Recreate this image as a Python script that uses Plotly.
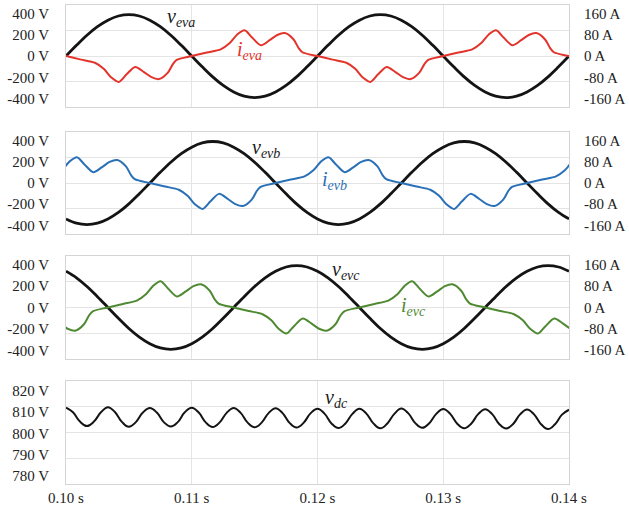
import numpy as np
import plotly.graph_objects as go

# ---------------------------------------------------------------- data
# phase voltages, sampled every 15 electrical degrees of the 50 Hz cycle
t_volt = np.linspace(0.10, 0.14, 49)
v_eva = [0, 84, 163, 230, 281, 314, 325, 314, 281, 230, 163, 84,
         0, -84, -163, -230, -281, -314, -325, -314, -281, -230, -163, -84,
         0, 84, 163, 230, 281, 314, 325, 314, 281, 230, 163, 84,
         0, -84, -163, -230, -281, -314, -325, -314, -281, -230, -163, -84,
         0]
v_evb = [-281, -314, -325, -314, -281, -230, -163, -84, 0, 84, 163, 230,
         281, 314, 325, 314, 281, 230, 163, 84, 0, -84, -163, -230,
         -281, -314, -325, -314, -281, -230, -163, -84, 0, 84, 163, 230,
         281, 314, 325, 314, 281, 230, 163, 84, 0, -84, -163, -230,
         -281]
v_evc = [281, 230, 163, 84, 0, -84, -163, -230, -281, -314, -325, -314,
         -281, -230, -163, -84, 0, 84, 163, 230, 281, 314, 325, 314,
         281, 230, 163, 84, 0, -84, -163, -230, -281, -314, -325, -314,
         -281, -230, -163, -84, 0, 84, 163, 230, 281, 314, 325, 314,
         281]

# phase currents (A), breakpoints of the measured waveforms
t_ia = [0.0988,
        0.1000, 0.1012, 0.1023, 0.1030, 0.1036, 0.1042, 0.1048, 0.1055, 0.1062, 0.1068, 0.1074, 0.1081, 0.1085, 0.1088,
        0.1100, 0.1112, 0.1123, 0.1130, 0.1136, 0.1142, 0.1148, 0.1155, 0.1162, 0.1168, 0.1174, 0.1181, 0.1185, 0.1188,
        0.1200, 0.1212, 0.1223, 0.1230, 0.1236, 0.1242, 0.1248, 0.1255, 0.1262, 0.1268, 0.1274, 0.1281, 0.1285, 0.1288,
        0.1300, 0.1312, 0.1323, 0.1330, 0.1336, 0.1342, 0.1348, 0.1355, 0.1362, 0.1368, 0.1374, 0.1381, 0.1385, 0.1388,
        0.1400, 0.1412]
i_eva = [12,
         0, -11, -21, -40, -67, -81, -58, -34, -50, -66, -72, -52, -25, -12,
         0, 11, 21, 40, 67, 81, 58, 34, 50, 66, 72, 52, 25, 12,
         0, -11, -21, -40, -67, -81, -58, -34, -50, -66, -72, -52, -25, -12,
         0, 11, 21, 40, 67, 81, 58, 34, 50, 66, 72, 52, 25, 12,
         0, -11]

t_ib = [0.09897, 0.09967, 0.10027, 0.10087, 0.10147, 0.10217, 0.10287, 0.10347, 0.10407, 0.10477, 0.10517, 0.10547,
        0.10667, 0.10787, 0.10897, 0.10967, 0.11027, 0.11087, 0.11147, 0.11217, 0.11287, 0.11347, 0.11407, 0.11477, 0.11517, 0.11547,
        0.11667, 0.11787, 0.11897, 0.11967, 0.12027, 0.12087, 0.12147, 0.12217, 0.12287, 0.12347, 0.12407, 0.12477, 0.12517, 0.12547,
        0.12667, 0.12787, 0.12897, 0.12967, 0.13027, 0.13087, 0.13147, 0.13217, 0.13287, 0.13347, 0.13407, 0.13477, 0.13517, 0.13547,
        0.13667, 0.13787, 0.13897, 0.13967, 0.14027, 0.14087]
i_evb = [21, 40, 67, 81, 58, 34, 50, 66, 72, 52, 25, 12,
         0, -11, -21, -40, -67, -81, -58, -34, -50, -66, -72, -52, -25, -12,
         0, 11, 21, 40, 67, 81, 58, 34, 50, 66, 72, 52, 25, 12,
         0, -11, -21, -40, -67, -81, -58, -34, -50, -66, -72, -52, -25, -12,
         0, 11, 21, 40, 67, 81]

t_ic = [0.09883, 0.09953, 0.10013, 0.10073, 0.10143, 0.10183, 0.10213,
        0.10333, 0.10453, 0.10563, 0.10633, 0.10693, 0.10753, 0.10813, 0.10883, 0.10953, 0.11013, 0.11073, 0.11143, 0.11183, 0.11213,
        0.11333, 0.11453, 0.11563, 0.11633, 0.11693, 0.11753, 0.11813, 0.11883, 0.11953, 0.12013, 0.12073, 0.12143, 0.12183, 0.12213,
        0.12333, 0.12453, 0.12563, 0.12633, 0.12693, 0.12753, 0.12813, 0.12883, 0.12953, 0.13013, 0.13073, 0.13143, 0.13183, 0.13213,
        0.13333, 0.13453, 0.13563, 0.13633, 0.13693, 0.13753, 0.13813, 0.13883, 0.13953, 0.14013, 0.14073]
i_evc = [-34, -50, -66, -72, -52, -25, -12,
         0, 11, 21, 40, 67, 81, 58, 34, 50, 66, 72, 52, 25, 12,
         0, -11, -21, -40, -67, -81, -58, -34, -50, -66, -72, -52, -25, -12,
         0, 11, 21, 40, 67, 81, 58, 34, 50, 66, 72, 52, 25, 12,
         0, -11, -21, -40, -67, -81, -58, -34, -50, -66, -72]

# dc-link voltage, 300 Hz ripple sampled six times per ripple period
t_dc = np.linspace(0.10, 0.14, 73)
v_dc = [809.6, 807.8, 804.2, 802.5, 804.2, 807.8,
        809.8, 807.9, 804.1, 802.2, 804.0, 807.7,
        809.5, 807.7, 804.0, 802.3, 804.0, 807.8,
        809.6, 807.7, 803.9, 802.1, 803.9, 807.6,
        809.5, 807.6, 803.8, 802.0, 803.8, 807.5,
        809.4, 807.5, 803.7, 801.9, 803.7, 807.4,
        809.2, 807.3, 803.5, 801.7, 803.5, 807.2,
        809.2, 807.3, 803.5, 801.6, 803.5, 807.2,
        809.3, 807.4, 803.6, 801.8, 803.6, 807.2,
        809.1, 807.2, 803.4, 801.6, 803.4, 807.1,
        809.0, 807.1, 803.3, 801.5, 803.3, 807.0,
        808.9, 807.0, 803.2, 801.3, 803.2, 806.9,
        808.8]

x_ticks = [0.10, 0.11, 0.12, 0.13, 0.14]
x_text = ["0.10 s", "0.11 s", "0.12 s", "0.13 s", "0.14 s"]
v_ticks = [-400, -200, 0, 200, 400]
v_text = ["-400 V", "-200 V", "0 V", "200 V", "400 V"]
i_ticks = [-160, -80, 0, 80, 160]
i_text = ["-160 A", "-80 A", "0 A", "80 A", "160 A"]
dc_ticks = [780, 790, 800, 810, 820]
dc_text = ["780 V", "790 V", "800 V", "810 V", "820 V"]

# ---------------------------------------------------------------- style
FONT = "Liberation Serif"
GRID = "#e4e4e4"
FRAME = "#d4d4d4"
BLACK = "#141414"
RED = "#e3342b"
BLUE = "#2a70b6"
GREEN = "#4f8a33"
TICK_COLOR = "#222222"
TICK_SIZE = 15


def tick_font():
    return dict(family=FONT, size=TICK_SIZE, color=TICK_COLOR)


domains = [[0.7867, 1.0], [0.5217, 0.735], [0.2609, 0.4762], [0.0, 0.2153]]

fig = go.Figure()
layout = {}


def x_axis(n, anchor, labels):
    ax = dict(domain=[0, 1], range=[0.10, 0.14], anchor=anchor,
              tickvals=x_ticks, ticktext=x_text, showticklabels=labels,
              ticks="", showgrid=True, gridcolor=GRID, gridwidth=1,
              showline=True, linecolor=FRAME, linewidth=1, mirror=True,
              zeroline=False, tickfont=tick_font())
    if n != 4:
        ax["matches"] = "x4"
    return ax


def line(x, y, xa, ya, color, width, smoothing=0.8):
    fig.add_trace(go.Scatter(x=x, y=y, xaxis=xa, yaxis=ya, mode="lines",
                             line=dict(color=color, width=width,
                                       shape="spline", smoothing=smoothing),
                             hoverinfo="skip", showlegend=False))


def blank(xa, ya):
    fig.add_trace(go.Scatter(x=[], y=[], xaxis=xa, yaxis=ya, mode="lines",
                             hoverinfo="skip", showlegend=False))


phase_panels = [
    (1, v_eva, t_ia, i_eva, RED, "eva"),
    (2, v_evb, t_ib, i_evb, BLUE, "evb"),
    (3, v_evc, t_ic, i_evc, GREEN, "evc"),
]

label_pos = {
    "eva": ((0.1079, 305), (0.1134, 17)),
    "evb": ((0.1146, 268), (0.1202, 9)),
    "evc": ((0.1210, 288), (0.1265, 3)),
}

annotations = []
for p, v, ti, cur, color, sub in phase_panels:
    xa = "x" if p == 1 else f"x{p}"
    base = 4 * (p - 1) + 1
    ym = "y" if base == 1 else f"y{base}"
    yi, yl, yr = f"y{base + 1}", f"y{base + 2}", f"y{base + 3}"

    layout["xaxis" if p == 1 else f"xaxis{p}"] = x_axis(p, ym, False)
    layout["yaxis" if base == 1 else f"yaxis{base}"] = dict(
        domain=domains[p - 1], range=[-400, 400], anchor=xa,
        tickvals=[-200, 0, 200], showticklabels=False, ticks="",
        showgrid=True, gridcolor=GRID, gridwidth=1, zeroline=False,
        showline=True, linecolor=FRAME, linewidth=1, mirror=True)
    layout[f"yaxis{base + 1}"] = dict(
        overlaying=ym, side="right", anchor=xa, range=[-160, 160],
        showgrid=False, showticklabels=False, zeroline=False, showline=False)
    layout[f"yaxis{base + 2}"] = dict(
        overlaying=ym, side="left", anchor=xa, range=[-482, 482],
        tickvals=v_ticks, ticktext=v_text, tickfont=tick_font(), ticks="",
        ticklabelstandoff=16, showgrid=False, zeroline=False, showline=False)
    layout[f"yaxis{base + 3}"] = dict(
        overlaying=ym, side="right", anchor=xa, range=[-193, 193],
        tickvals=i_ticks, ticktext=i_text, tickfont=tick_font(), ticks="",
        ticklabelstandoff=14, showgrid=False, zeroline=False, showline=False)

    line(t_volt, v, xa, ym, BLACK, 2.8, 1.0)
    line(ti, cur, xa, yi, color, 2.0)
    blank(xa, yl)
    blank(xa, yr)

    (vx, vy), (ix, iy) = label_pos[sub]
    annotations.append(dict(x=vx, y=vy, xref=xa, yref=ym, xanchor="left",
                            yanchor="middle", showarrow=False,
                            text=f"<i>v</i><sub><i>{sub}</i></sub>",
                            font=dict(family=FONT, size=20, color="#1a1a1a")))
    annotations.append(dict(x=ix, y=iy, xref=xa, yref=yi, xanchor="left",
                            yanchor="middle", showarrow=False,
                            text=f"<i>i</i><sub><i>{sub}</i></sub>",
                            font=dict(family=FONT, size=20, color=color)))

# dc-link panel
layout["xaxis4"] = x_axis(4, "y13", True)
layout["yaxis13"] = dict(
    domain=domains[3], range=[780, 820], anchor="x4",
    tickvals=[790, 800, 810], showticklabels=False, ticks="",
    showgrid=True, gridcolor=GRID, gridwidth=1, zeroline=False,
    showline=True, linecolor=FRAME, linewidth=1, mirror=True)
layout["yaxis14"] = dict(
    overlaying="y13", side="left", anchor="x4", range=[776.2, 824.6],
    tickvals=dc_ticks, ticktext=dc_text, tickfont=tick_font(), ticks="",
    ticklabelstandoff=16, showgrid=False, zeroline=False, showline=False)
line(t_dc, v_dc, "x4", "y13", BLACK, 2.0, 1.2)
blank("x4", "y14")
annotations.append(dict(x=0.12043, y=813, xref="x4", yref="y13",
                        xanchor="left", yanchor="middle", showarrow=False,
                        text="<i>v</i><sub><i>dc</i></sub>",
                        font=dict(family=FONT, size=20, color="#1a1a1a")))

fig.update_layout(
    width=629, height=510,
    margin=dict(l=66, r=60, t=4, b=23),
    paper_bgcolor="white", plot_bgcolor="white",
    font=dict(family=FONT, size=TICK_SIZE, color=TICK_COLOR),
    hovermode=False,
    annotations=annotations,
    **layout,
)

fig.write_html("out.html", config={"displayModeBar": False})
